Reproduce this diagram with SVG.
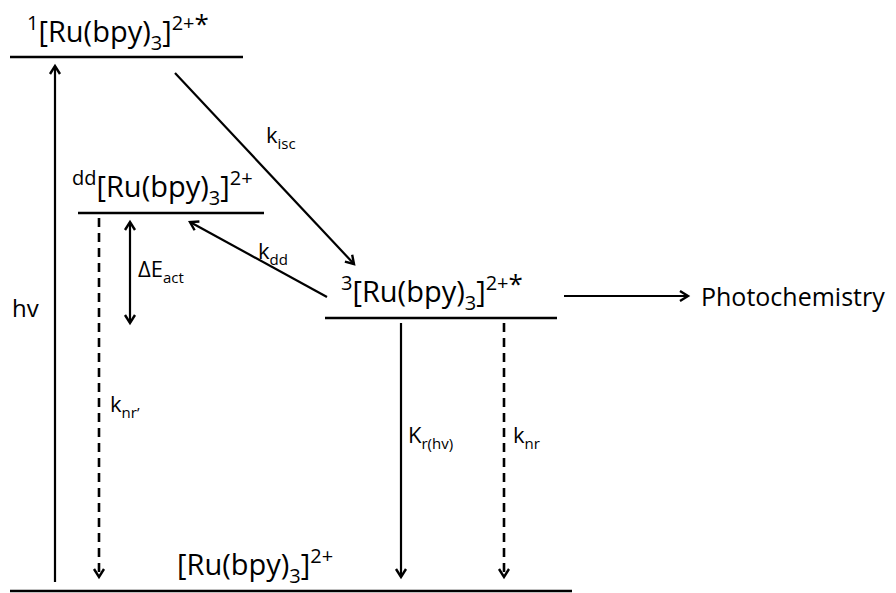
<svg xmlns="http://www.w3.org/2000/svg" width="896" height="593" viewBox="0 0 896 593">
<style>
text{font-family:"Open Sans","Noto Sans","Liberation Sans",sans-serif;fill:#000}
.big{font-size:29px}
.sup{font-size:20px}
.star{font-size:26px}
.sub{font-size:20px}
.k{font-size:22px}
.ks{font-size:15px}
.lvl{stroke:#000;stroke-width:2.6;fill:none}
.ar{stroke:#000;stroke-width:2.2;fill:none}
.dash{stroke-dasharray:9,6;stroke-width:2.6}
</style>
<defs>
<marker id="ah" markerUnits="userSpaceOnUse" markerWidth="14" markerHeight="14" refX="9" refY="6" orient="auto-start-reverse" viewBox="0 0 14 12">
<path d="M1,1 L9,6 L1,11" fill="none" stroke="#000" stroke-width="2.4"/>
</marker>
</defs>
<rect width="896" height="593" fill="#fff"/>

<g id="singlet">
<line class="lvl" x1="10" y1="57" x2="243" y2="57"/>
<text class="big" x="27" y="42"><tspan class="sup" dy="-12">1</tspan><tspan dy="12">[Ru(bpy)</tspan><tspan class="sub" dy="8">3</tspan><tspan dy="-8">]</tspan><tspan class="sup" dy="-12">2+</tspan><tspan class="star" dy="3">*</tspan></text>
</g>

<g id="dd">
<line class="lvl" x1="78" y1="213" x2="264" y2="213"/>
<text class="big" x="72" y="197"><tspan class="sup" dy="-12">dd</tspan><tspan dy="12">[Ru(bpy)</tspan><tspan class="sub" dy="8">3</tspan><tspan dy="-8">]</tspan><tspan class="sup" dy="-12">2+</tspan></text>
</g>

<g id="triplet">
<line class="lvl" x1="325" y1="318" x2="557" y2="318"/>
<text class="big" x="341" y="302"><tspan class="sup" dy="-12">3</tspan><tspan dy="12">[Ru(bpy)</tspan><tspan class="sub" dy="8">3</tspan><tspan dy="-8">]</tspan><tspan class="sup" dy="-12">2+</tspan><tspan class="star" dy="3">*</tspan></text>
</g>

<g id="ground">
<line class="lvl" x1="10" y1="591" x2="572" y2="591"/>
<text class="big" x="177" y="575">[Ru(bpy)<tspan class="sub" dy="8">3</tspan><tspan dy="-8">]</tspan><tspan class="sup" dy="-12">2+</tspan></text>
</g>

<g id="photochemistry">
<text x="701" y="306" font-size="25">Photochemistry</text>
</g>

<g id="connectors">
<line class="ar" x1="55" y1="582" x2="55" y2="66" marker-end="url(#ah)"/>
<line class="ar" x1="175" y1="73" x2="354" y2="264" marker-end="url(#ah)"/>
<line class="ar" x1="327" y1="297" x2="190" y2="222" marker-end="url(#ah)"/>
<line class="ar" x1="130" y1="222" x2="130" y2="323" marker-start="url(#ah)" marker-end="url(#ah)"/>
<line class="ar dash" x1="99" y1="218" x2="99" y2="577" marker-end="url(#ah)"/>
<line class="ar" x1="401" y1="323" x2="401" y2="577" marker-end="url(#ah)"/>
<line class="ar dash" x1="504" y1="323" x2="504" y2="577" marker-end="url(#ah)"/>
<line class="ar" x1="564" y1="296" x2="688" y2="296" marker-end="url(#ah)"/>
</g>

<g id="labels">
<text x="12" y="317" font-size="24">hv</text>
<text class="k" x="266" y="143">k<tspan class="ks" dy="6">isc</tspan></text>
<text class="k" x="258" y="259">k<tspan class="ks" dy="6">dd</tspan></text>
<text class="k" x="138" y="277">ΔE<tspan class="ks" dy="6">act</tspan></text>
<text class="k" x="110" y="412">k<tspan class="ks" dy="6">nr’</tspan></text>
<text class="k" x="408" y="443">K<tspan class="ks" dy="6">r(hv)</tspan></text>
<text class="k" x="513" y="443">k<tspan class="ks" dy="6">nr</tspan></text>
</g>
</svg>
